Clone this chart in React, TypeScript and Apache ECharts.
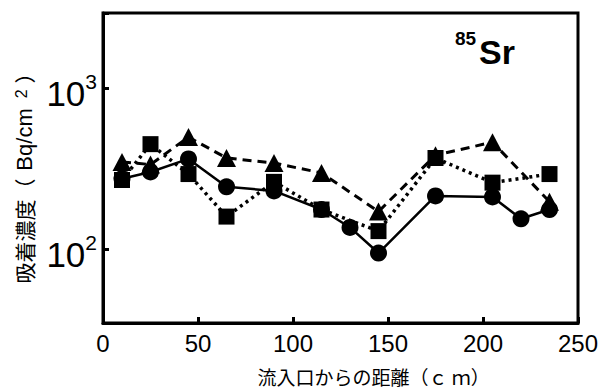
import React, { useEffect, useRef } from "react";
import * as echarts from "echarts";

// Distance from inlet (cm)
const circleX = [10, 25, 45, 65, 90, 115, 130, 145, 175, 205, 220, 235];
const circleY = [275, 303, 365, 245, 231, 177, 137, 95, 215, 212, 155, 177];

const squareX = [10, 25, 45, 65, 90, 115, 145, 175, 205, 235];
const squareY = [270, 451, 294, 160, 263, 177, 130, 370, 260, 294];

const triX = [10, 25, 45, 65, 90, 115, 145, 175, 205, 235];
const triY = [349, 337, 499, 370, 344, 299, 172, 385, 464, 198];

const xTicks = [0, 50, 100, 150, 200, 250];
const yMin = Math.pow(10, 1.543);
const yMax = Math.pow(10, 3.469);

const pairs = (xs: number[], ys: number[]) => xs.map((x, i) => [x, ys[i]]);

const LATIN = "'Liberation Sans', Arial, Helvetica, sans-serif";
const CJK = "'Noto Sans CJK JP', 'Noto Sans', sans-serif";

export default function App() {
  const ref = useRef<HTMLDivElement>(null);
  useEffect(() => {
    if (!ref.current) return;
    const chart = echarts.init(ref.current, undefined, { renderer: "svg" });
    chart.setOption({
      animation: false,
      backgroundColor: "#fff",
      grid: {
        left: 103,
        right: 27,
        top: 13,
        bottom: 66,
        show: true,
        borderColor: "#000",
        borderWidth: 3,
      },
      xAxis: {
        type: "value",
        min: xTicks[0],
        max: xTicks[xTicks.length - 1],
        interval: 50,
        axisLine: { show: true, lineStyle: { color: "#000", width: 3 } },
        axisTick: { show: true, inside: true, length: 6, lineStyle: { color: "#000", width: 3 } },
        splitLine: { show: false },
        axisLabel: { color: "#000", fontSize: 24, fontFamily: LATIN, margin: 9 },
        name: "流入口からの距離（ｃ ｍ）",
        nameLocation: "middle",
        nameGap: 44,
        nameTextStyle: { color: "#000", fontSize: 19, fontFamily: CJK, padding: [0, 0, 0, 66] },
      },
      yAxis: {
        type: "log",
        logBase: 10,
        min: yMin,
        max: yMax,
        axisLine: { show: true, lineStyle: { color: "#000", width: 3 } },
        axisTick: { show: true, inside: true, length: 6, lineStyle: { color: "#000", width: 3 } },
        minorTick: { show: false },
        splitLine: { show: false },
        axisLabel: {
          margin: 6,
          formatter: (v: number) => {
            const e = Math.log10(v);
            const r = Math.round(e);
            if (Math.abs(e - r) < 1e-6) return `{b|10}{s|${r}}`;
            return "";
          },
          rich: {
            b: { fontSize: 35, fontFamily: LATIN, color: "#000", lineHeight: 34, padding: [10, 0, 0, 0] },
            s: { fontSize: 21, fontFamily: LATIN, color: "#000", verticalAlign: "top", lineHeight: 21 },
          },
        },
        name: "{k|吸着濃度（}{l|Bq/cm}{p|2}{k|）}",
        nameLocation: "middle",
        nameRotate: 90,
        nameGap: 68,
        nameTextStyle: {
          padding: [0, 10, 0, 0],
          rich: {
            k: { fontSize: 21, fontFamily: CJK, color: "#000" },
            l: { fontSize: 22, fontFamily: LATIN, color: "#000", padding: [0, 8, 0, 8] },
            p: { fontSize: 16, fontFamily: LATIN, color: "#000", verticalAlign: "top", padding: [0, 6, 0, 2] },
          },
        },
      },
      graphic: [
        {
          type: "text",
          x: 455,
          y: 29,
          style: { text: "85", fontSize: 19, fontWeight: "bold", fontFamily: LATIN, fill: "#000", align: "left", verticalAlign: "top" },
        },
        {
          type: "text",
          x: 479,
          y: 35,
          style: { text: "Sr", fontSize: 34, fontWeight: "bold", fontFamily: LATIN, fill: "#000", align: "left", verticalAlign: "top" },
        },
      ],
      series: [
        {
          type: "line",
          data: pairs(circleX, circleY),
          symbol: "circle",
          symbolSize: 17,
          z: 2,
          lineStyle: { color: "#000", width: 2.5, type: "solid" },
          itemStyle: { color: "#000" },
        },
        {
          type: "line",
          data: pairs(triX, triY),
          symbol: "triangle",
          symbolSize: [19, 18],
          z: 3,
          lineStyle: { color: "#000", width: 3, type: [9, 6] },
          itemStyle: { color: "#000" },
        },
        {
          type: "line",
          data: pairs(squareX, squareY),
          symbol: "rect",
          symbolSize: 16,
          z: 4,
          lineStyle: { color: "#000", width: 3.5, type: [3, 4] },
          itemStyle: { color: "#000" },
        },
      ],
    });
    return () => chart.dispose();
  }, []);
  return <div ref={ref} style={{ position: "fixed", left: 0, top: 0, width: 605, height: 391 }} />;
}
